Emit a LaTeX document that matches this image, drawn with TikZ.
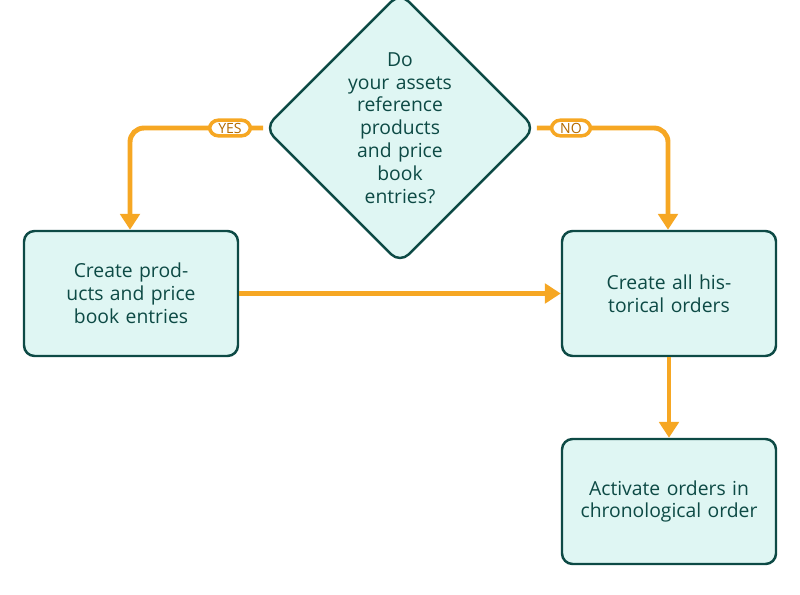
\documentclass[tikz,border=0pt]{standalone}
\usepackage{fontspec}
\setmainfont{Open Sans}
\usetikzlibrary{shapes.geometric,arrows.meta}
\definecolor{boxfill}{HTML}{DFF6F3}
\definecolor{boxline}{HTML}{0D4A45}
\definecolor{flow}{HTML}{F6A723}
\definecolor{tagtext}{HTML}{B36A00}
\tikzset{
  task/.style={shape=rectangle, rounded corners=6pt, draw=boxline, line width=1.4pt, fill=boxfill,
    minimum width=4.28cm, minimum height=2.5cm, text width=3.6cm, align=center,
    font=\fontsize{11}{13}\selectfont\color{boxline}},
  ask/.style={shape=diamond, rounded corners=7pt, draw=boxline, line width=1.4pt, fill=boxfill,
    minimum width=5cm, minimum height=4.1cm, inner sep=0pt, text width=2.4cm, align=center,
    font=\fontsize{11}{13}\selectfont\color{boxline}},
  tag/.style={shape=rectangle, rounded corners=5pt, draw=flow, line width=2pt, fill=white,
    inner xsep=5pt, inner ysep=1.5pt, font=\fontsize{8}{9}\selectfont\color{tagtext}},
  link/.style={draw=flow, line width=2.8pt, rounded corners=8pt, -{Triangle[length=9pt,width=11pt]}}
}
\begin{document}
\begin{tikzpicture}
    \useasboundingbox (0,0) rectangle (16,-11.9);
    \node (q) at (8, -2.56) [ask] {Do\\ your assets reference products and price book entries?};
    \node (make) at (2.62, -5.87) [task] {Create products and price book entries};
    \node (hist) at (13.38, -5.87) [task] {Create all historical orders};
    \node (act) at (13.38, -10.03) [task] {Activate orders in chronological order};

    \coordinate (lbend) at (2.6, -2.56);
    \coordinate (rbend) at (13.36, -2.56);

    \draw[link] (q.west) -- (lbend) -- (make.north -| lbend);
    \draw[link] (q.east) -- (rbend) -- (hist.north -| rbend);
    \draw[link] (make.east) -- (hist.west);
    \draw[link] (hist.south) -- (act.north);

    \node (yes) at (4.6, -2.56) [tag] {YES};
    \node (no) at (11.42, -2.56) [tag] {NO};
\end{tikzpicture}
\end{document}
